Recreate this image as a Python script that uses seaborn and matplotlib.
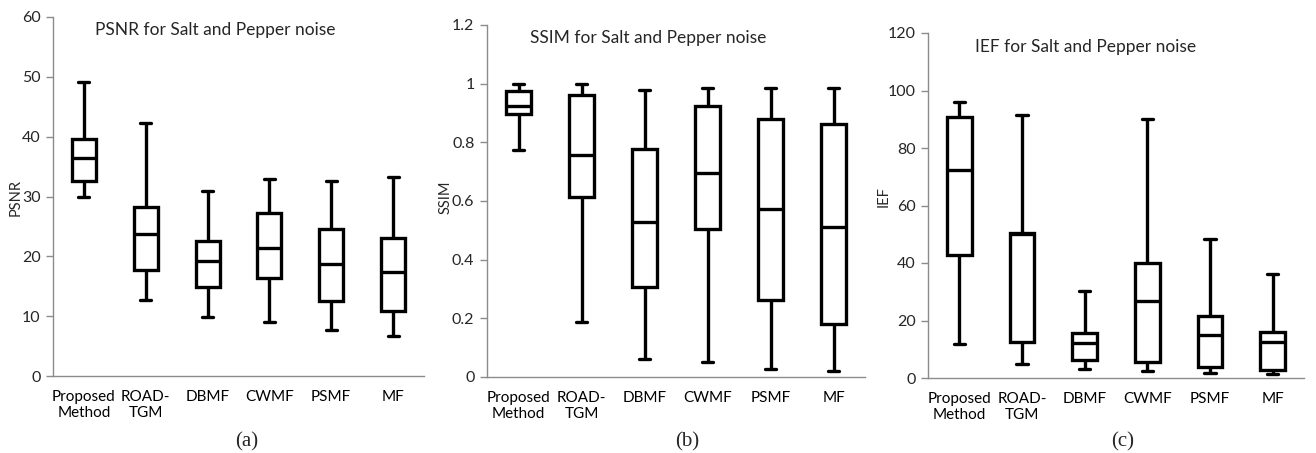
import numpy as np
import pandas as pd
import matplotlib
matplotlib.use("Agg")
import matplotlib.pyplot as plt
import seaborn as sns

methods = ["Proposed\nMethod", "ROAD-\nTGM", "DBMF", "CWMF", "PSMF", "MF"]

# PSNR five-number summaries (whisker low, Q1, median, Q3, whisker high)
psnr_lo = [29.9, 12.7, 9.9, 9.0, 7.7, 6.7]
psnr_q1 = [32.6, 17.7, 14.8, 16.4, 12.6, 10.8]
psnr_med = [36.4, 23.7, 19.2, 21.4, 18.8, 17.4]
psnr_q3 = [39.6, 28.2, 22.6, 27.3, 24.6, 23.1]
psnr_hi = [49.2, 42.3, 30.9, 33.0, 32.6, 33.2]

# SSIM
ssim_lo = [0.775, 0.186, 0.060, 0.050, 0.028, 0.019]
ssim_q1 = [0.895, 0.612, 0.307, 0.506, 0.262, 0.182]
ssim_med = [0.924, 0.756, 0.530, 0.694, 0.572, 0.512]
ssim_q3 = [0.976, 0.962, 0.777, 0.923, 0.881, 0.861]
ssim_hi = [0.998, 0.998, 0.977, 0.984, 0.984, 0.984]

# IEF
ief_lo = [11.8, 4.8, 3.2, 2.6, 1.9, 1.5]
ief_q1 = [42.7, 12.6, 6.1, 5.7, 3.9, 2.8]
ief_med = [72.2, 50.0, 12.1, 26.8, 15.0, 12.4]
ief_q3 = [90.9, 50.3, 15.8, 40.0, 21.7, 16.0]
ief_hi = [96.0, 91.4, 30.1, 90.2, 48.2, 36.2]

panels = [
    ("PSNR", "PSNR for Salt and Pepper noise", (psnr_lo, psnr_q1, psnr_med, psnr_q3, psnr_hi),
     (0, 60), [0, 10, 20, 30, 40, 50, 60], ["0", "10", "20", "30", "40", "50", "60"], "(a)"),
    ("SSIM", "SSIM for Salt and Pepper noise", (ssim_lo, ssim_q1, ssim_med, ssim_q3, ssim_hi),
     (0, 1.2), [0, 0.2, 0.4, 0.6, 0.8, 1.0, 1.2], ["0", "0.2", "0.4", "0.6", "0.8", "1", "1.2"], "(b)"),
    ("IEF", "IEF for Salt and Pepper noise", (ief_lo, ief_q1, ief_med, ief_q3, ief_hi),
     (0, 120), [0, 20, 40, 60, 80, 100, 120], ["0", "20", "40", "60", "80", "100", "120"], "(c)"),
]

sns.set_theme(style="white")
plt.rcParams["font.family"] = ["Lato", "DejaVu Sans"]

W, H = 1316, 453
fig = plt.figure(figsize=(W / 100, H / 100), dpi=100)

# axes boxes in pixels: left, right, top(ymax), bottom(ymin)
boxes = [(53, 424, 17, 376), (487, 865, 25, 377), (928, 1304, 33, 378)]
ylabel_x = [16, 446, 884]
title_y = [30, 38, 47]
title_xc = [215, 648, 1086]
sub_x = [247, 687, 1123]

gray = "#8c8c8c"
for i, (name, title, stats, ylim, yt, ytl, sub) in enumerate(panels):
    l, r, t, b = boxes[i]
    ax = fig.add_axes([l / W, 1 - b / H, (r - l) / W, (b - t) / H])
    rows = []
    for m, vals in zip(methods, zip(*stats)):
        for v in vals:
            rows.append({"method": m, "value": v})
    df = pd.DataFrame(rows)
    sns.boxplot(data=df, x="method", y="value", order=methods, ax=ax,
                color="white", linecolor="black", linewidth=2.4, width=0.39,
                whis=(0, 100), capwidths=0.18, fliersize=0)
    ax.set_xlim(-0.5, 5.5)
    ax.set_ylim(*ylim)
    ax.set_yticks(yt)
    ax.set_yticklabels(ytl)
    ax.set_xticks(range(6))
    ax.set_xticklabels(methods, linespacing=1.2)
    ax.set_xticks(np.arange(-0.5, 6.0, 1.0), minor=True)
    ax.tick_params(axis="x", which="major", length=0, pad=10, labelsize=11, colors="black")
    ax.tick_params(axis="x", which="minor", length=5, width=1, color=gray, direction="out")
    ax.tick_params(axis="y", which="major", length=5, width=1, color=gray, direction="out",
                   labelsize=11.5, pad=4, left=True)
    for s in ["top", "right"]:
        ax.spines[s].set_visible(False)
    for s in ["left", "bottom"]:
        ax.spines[s].set_color(gray)
        ax.spines[s].set_linewidth(1)
    ax.set_xlabel("")
    ax.set_ylabel("")
    ax.grid(False)
    fig.text(ylabel_x[i] / W, 1 - 197 / H, name, rotation=90, ha="center", va="center", fontsize=10.5)
    fig.text(title_xc[i] / W, 1 - title_y[i] / H, title, ha="center", va="center", fontsize=12.5)
    fig.text(sub_x[i] / W, 1 - 442 / H, sub, ha="center", va="center", fontsize=15,
             family=["Liberation Serif", "DejaVu Serif"])

fig.savefig("out.png", dpi=100, facecolor="white")
